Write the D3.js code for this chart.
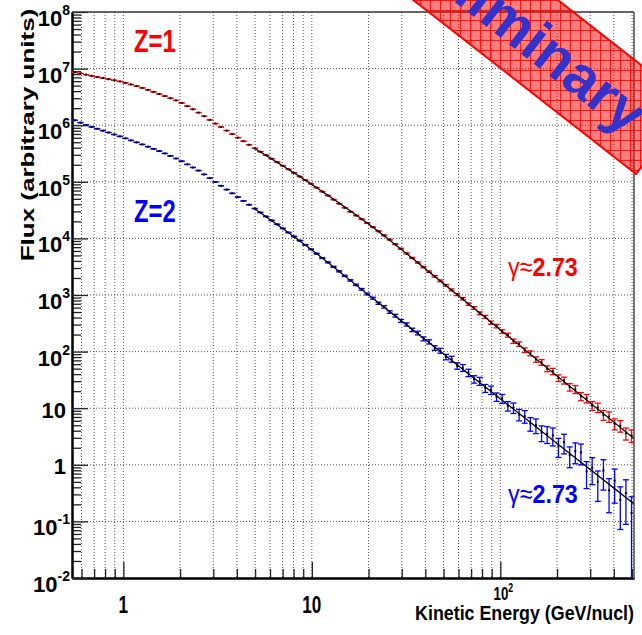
<!DOCTYPE html>
<html>
<head>
<meta charset="utf-8">
<script src="https://cdn.jsdelivr.net/npm/d3@7"></script>
<style>
  html, body { margin: 0; padding: 0; background: #fff; }
  svg { display: block; font-family: "Liberation Sans", Arial, sans-serif; }
</style>
</head>
<body>
<svg id="vis_svg" width="642" height="635"></svg>
<script>
// ---- data ----
const energies = [0.5525,0.5918,0.6339,0.6790,0.7273,0.7790,0.8344,0.8937,0.9573,1.025,
  1.098,1.176,1.260,1.350,1.446,1.549,1.659,1.777,1.903,2.038,
  2.183,2.339,2.505,2.683,2.874,3.078,3.297,3.532,3.783,4.052,
  4.340,4.649,4.980,5.334,5.713,6.120,6.555,7.021,7.521,8.055,
  8.628,9.242,9.899,10.60,11.36,12.17,13.03,13.96,14.95,16.01,
  17.15,18.37,19.68,21.08,22.58,24.18,25.90,27.74,29.71,31.83,
  34.09,36.52,39.11,41.89,44.87,48.06,51.48,55.14,59.06,63.26,
  67.76,72.58,77.74,83.27,89.19,95.53,102.3,109.6,117.4,125.8,
  134.7,144.3,154.5,165.5,177.3,189.9,203.4,217.9,233.4,250.0,
  267.7,286.8,307.2,329.0,352.4,377.5,404.3,433.0,463.8,496.8];

const fluxZ1 = [8.61e6,8.20e6,7.82e6,7.46e6,7.11e6,6.79e6,6.49e6,6.21e6,5.93e6,5.61e6,
  5.24e6,4.90e6,4.57e6,4.21e6,3.87e6,3.56e6,3.27e6,2.99e6,2.74e6,2.47e6,
  2.17e6,1.91e6,1.67e6,1.44e6,1.24e6,1.07e6,9.29e5,8.04e5,6.95e5,6.03e5,
  5.21e5,4.52e5,3.91e5,3.40e5,2.95e5,2.56e5,2.22e5,1.92e5,1.66e5,1.44e5,
  1.24e5,1.07e5,9.25e4,7.89e4,6.71e4,5.71e4,4.85e4,4.12e4,3.49e4,2.96e4,
  2.54e4,2.18e4,1.87e4,1.58e4,1.34e4,1.13e4,9.51e3,7.89e3,6.55e3,5.43e3,
  4.51e3,3.75e3,3.11e3,2.58e3,2.14e3,1.78e3,1.48e3,1.23e3,1.02e3,860,
  690,592,476,410,325,283,226,196,153,136,
  106,93.5,72.8,64.6,50.1,44.8,34.2,31.0,23.6,21.6,
  16.2,14.9,11.1,10.3,7.6,7.1,5.3,4.9,3.6,3.3];

// relative errors
const errZ1 = [0.003,0.003,0.003,0.003,0.003,0.003,0.003,0.003,0.003,0.003,
  0.003,0.003,0.003,0.003,0.003,0.003,0.003,0.003,0.003,0.003,
  0.003,0.003,0.003,0.003,0.003,0.003,0.003,0.003,0.003,0.003,
  0.004,0.004,0.004,0.004,0.004,0.004,0.004,0.004,0.004,0.004,
  0.005,0.005,0.006,0.006,0.007,0.007,0.008,0.008,0.009,0.010,
  0.011,0.012,0.013,0.014,0.015,0.016,0.017,0.019,0.020,0.022,
  0.024,0.026,0.028,0.030,0.032,0.035,0.038,0.041,0.044,0.047,
  0.050,0.054,0.058,0.062,0.066,0.070,0.075,0.080,0.085,0.090,
  0.095,0.10,0.11,0.115,0.12,0.13,0.135,0.14,0.15,0.16,
  0.165,0.17,0.18,0.19,0.20,0.21,0.22,0.23,0.24,0.25];

const fluxZ2 = [1.22e6,1.11e6,1.01e6,9.33e5,8.65e5,8.02e5,7.43e5,6.85e5,6.34e5,5.85e5,
  5.38e5,4.97e5,4.57e5,4.18e5,3.82e5,3.49e5,3.17e5,2.86e5,2.58e5,2.31e5,
  2.03e5,1.79e5,1.58e5,1.35e5,1.16e5,9.93e4,8.51e4,7.29e4,6.25e4,5.36e4,
  4.59e4,3.94e4,3.37e4,2.87e4,2.44e4,2.08e4,1.77e4,1.50e4,1.27e4,1.08e4,
  9.14e3,7.67e3,6.43e3,5.38e3,4.50e3,3.77e3,3.14e3,2.62e3,2.18e3,1.81e3,
  1.51e3,1.26e3,1.04e3,880,716,617,500,431,349,302,
  242,213,168,149,116,104,80.5,73.8,56.2,51.8,
  42.5,32.6,30.2,22.6,21.0,15.9,14.8,11.0,10.2,7.76,
  7.24,5.37,5.01,3.72,3.55,3.31,2.14,2.51,1.48,1.74,
  1.66,0.759,0.891,0.501,0.794,0.355,0.525,0.240,0.316,0.141];

const errZ2 = [0.004,0.004,0.004,0.004,0.004,0.004,0.004,0.004,0.004,0.004,
  0.004,0.004,0.004,0.004,0.004,0.004,0.004,0.004,0.004,0.004,
  0.005,0.005,0.005,0.005,0.005,0.005,0.005,0.005,0.005,0.005,
  0.006,0.006,0.007,0.007,0.008,0.008,0.009,0.010,0.011,0.012,
  0.013,0.014,0.015,0.017,0.018,0.020,0.022,0.024,0.026,0.028,
  0.031,0.034,0.037,0.040,0.044,0.048,0.052,0.056,0.060,0.065,
  0.070,0.075,0.080,0.086,0.092,0.10,0.11,0.12,0.13,0.14,
  0.15,0.15,0.16,0.16,0.17,0.17,0.18,0.19,0.21,0.23,
  0.25,0.27,0.29,0.31,0.33,0.35,0.37,0.38,0.40,0.40,
  0.40,0.50,0.50,0.55,0.55,0.60,0.60,0.70,0.72,0.93];

// black fit curves
const fitEnergies = [5, 10, 20, 50, 100, 200, 512];
const fitZ1 = [3.85e5, 9.0e4, 1.80e4, 1585, 243, 37, 2.92];
const fitZ2 = [3.3e4, 6240, 1000, 90.4, 14.7, 2.38, 0.204];

const xDomain = [0.534, 512];
const yDomain = [1e-2, 1e8];
const xLabelTicks = [1, 10, 100];
const yLabelExps = [-2, -1, 0, 1, 2, 3, 4, 5, 6, 7, 8];
const seriesNames = ['Z=1', 'Z=2'];
const gammaText = ['2.73', '2.73'];

// ---- layout ----
const margin = { top: 12, right: 8, bottom: 57, left: 72 };
const width = 642, height = 635;
const svg = d3.select('#vis_svg');

const x = d3.scaleLog().domain(xDomain).range([margin.left, width - margin.right]);
const y = d3.scaleLog().domain(yDomain).range([height - margin.bottom, margin.top]);
const y0 = height - margin.bottom;

// tick / grid positions
const xTicksAll = [];
for (let p = -1; p <= 2; p++) {
  for (let k = 1; k <= 9; k++) {
    const v = k * Math.pow(10, p);
    if (v >= xDomain[0] && v <= xDomain[1]) xTicksAll.push(v);
  }
}
const yMajor = yLabelExps.map((e) => Math.pow(10, e));
const yMinor = [];
yLabelExps.slice(0, -1).forEach((e) => {
  for (let k = 2; k <= 9; k++) yMinor.push(k * Math.pow(10, e));
});

// grid
const gGrid = svg.append('g')
  .attr('stroke', '#555')
  .attr('stroke-width', 1)
  .attr('stroke-dasharray', '1,2');
gGrid.selectAll('line.gx').data(xTicksAll).join('line')
  .attr('x1', (d) => x(d)).attr('x2', (d) => x(d))
  .attr('y1', margin.top).attr('y2', y0);
gGrid.selectAll('line.gy').data(yMajor.slice(1, -1)).join('line')
  .attr('y1', (d) => y(d)).attr('y2', (d) => y(d))
  .attr('x1', margin.left).attr('x2', width - margin.right);

// axes (ticks only, labels drawn separately)
const xMinorTicks = xTicksAll.filter((v) => !xLabelTicks.includes(v));
const axisX1 = svg.append('g').attr('transform', `translate(0,${y0})`)
  .call(d3.axisBottom(x).tickValues(xMinorTicks).tickSize(-9).tickFormat('').tickSizeOuter(0));
const axisX2 = svg.append('g').attr('transform', `translate(0,${y0})`)
  .call(d3.axisBottom(x).tickValues(xLabelTicks).tickSize(-16).tickFormat('').tickSizeOuter(0));
const axisY1 = svg.append('g').attr('transform', `translate(${margin.left},0)`)
  .call(d3.axisLeft(y).tickValues(yMinor).tickSize(-9).tickFormat('').tickSizeOuter(0));
const axisY2 = svg.append('g').attr('transform', `translate(${margin.left},0)`)
  .call(d3.axisLeft(y).tickValues(yMajor).tickSize(-16).tickFormat('').tickSizeOuter(0));
[axisX1, axisX2, axisY1, axisY2].forEach((g) => {
  g.selectAll('.tick line').attr('stroke', '#222').attr('stroke-width', 1.3);
  g.select('.domain').attr('stroke', '#000').attr('stroke-width', 2);
});

// frame
svg.append('line')
  .attr('x1', margin.left).attr('x2', width - margin.right)
  .attr('y1', margin.top).attr('y2', margin.top)
  .attr('stroke', '#333').attr('stroke-width', 1.5);
svg.append('line')
  .attr('x1', width - margin.right).attr('x2', width - margin.right)
  .attr('y1', margin.top).attr('y2', y0)
  .attr('stroke', '#777').attr('stroke-width', 2);

// y tick labels
const gYL = svg.append('g').attr('font-weight', 'bold').attr('fill', '#000');
yLabelExps.forEach((e) => {
  const ty = y(Math.pow(10, e));
  if (e === 0 || e === 1) {
    gYL.append('text')
      .attr('x', 66).attr('y', ty + 9.5)
      .attr('text-anchor', 'end')
      .attr('font-size', 22)
      .text(e === 0 ? '1' : '10');
  } else {
    const t = gYL.append('text')
      .attr('x', 70).attr('y', ty + 14)
      .attr('text-anchor', 'end');
    t.append('tspan').attr('font-size', 22).text('10');
    t.append('tspan').attr('font-size', 14).attr('dy', -11).text(String(e));
  }
});

// x tick labels
const gXL = svg.append('g').attr('font-weight', 'bold').attr('fill', '#000');
xLabelTicks.forEach((v) => {
  if (v < 100) {
    gXL.append('text')
      .attr('transform', `translate(${x(v)},613) scale(0.7,1)`)
      .attr('text-anchor', 'middle')
      .attr('font-size', 24.5)
      .text(String(v));
  } else {
    const t = gXL.append('text')
      .attr('transform', `translate(${x(v) + 3},600) scale(0.7,1)`)
      .attr('text-anchor', 'middle');
    t.append('tspan').attr('font-size', 19).text('10');
    t.append('tspan').attr('font-size', 12.5).attr('dy', -8).text(String(Math.round(Math.log10(v))));
  }
});

// axis titles
svg.append('text')
  .attr('transform', `translate(${width - margin.right},620) scale(0.87,1)`)
  .attr('text-anchor', 'end')
  .attr('font-size', 20.5).attr('font-weight', 'bold')
  .text('Kinetic Energy (GeV/nucl)');
svg.append('text')
  .attr('transform', 'translate(34,135) rotate(-90) scale(1,0.72)')
  .attr('text-anchor', 'middle')
  .attr('font-size', 26).attr('font-weight', 'bold')
  .text('Flux (arbitrary units)');

// data
svg.append('clipPath').attr('id', 'plotClip')
  .append('rect')
  .attr('x', margin.left).attr('y', margin.top)
  .attr('width', width - margin.left - margin.right)
  .attr('height', y0 - margin.top);

const series = [
  { flux: fluxZ1, err: errZ1, fit: fitZ1, color: '#ff0000' },
  { flux: fluxZ2, err: errZ2, fit: fitZ2, color: '#0000ff' },
];

const gData = svg.append('g').attr('clip-path', 'url(#plotClip)');
const cap = 3;
series.forEach((s) => {
  const pts = energies.map((e, i) => {
    const v = s.flux[i];
    const lo = Math.max(v * (1 - s.err[i]), yDomain[0] * 0.5);
    const hi = v * (1 + s.err[i]);
    return { e, v, lo, hi };
  });
  const g = gData.append('g').attr('stroke', s.color).attr('stroke-width', 1.3);
  g.selectAll('line.eb').data(pts).join('line')
    .attr('x1', (d) => x(d.e)).attr('x2', (d) => x(d.e))
    .attr('y1', (d) => y(d.lo)).attr('y2', (d) => y(d.hi));
  g.selectAll('line.ct').data(pts).join('line')
    .attr('x1', (d) => x(d.e) - cap).attr('x2', (d) => x(d.e) + cap)
    .attr('y1', (d) => y(d.hi)).attr('y2', (d) => y(d.hi));
  g.selectAll('line.cb').data(pts.filter((d) => d.lo > yDomain[0])).join('line')
    .attr('x1', (d) => x(d.e) - cap).attr('x2', (d) => x(d.e) + cap)
    .attr('y1', (d) => y(d.lo)).attr('y2', (d) => y(d.lo));
  s.pts = pts;
});

// fit curves
const fitLine = d3.line()
  .x((d) => x(d[0]))
  .y((d) => y(d[1]))
  .curve(d3.curveMonotoneX);
series.forEach((s) => {
  gData.append('path')
    .datum(fitEnergies.map((e, i) => [e, s.fit[i]]))
    .attr('d', fitLine)
    .attr('fill', 'none')
    .attr('stroke', '#000')
    .attr('stroke-width', 1.2);
});

// black markers
series.forEach((s) => {
  gData.append('g').selectAll('rect').data(s.pts).join('rect')
    .attr('x', (d) => x(d.e) - 1).attr('y', (d) => y(d.v) - 1)
    .attr('width', 2).attr('height', 2)
    .attr('fill', '#000');
});

// series labels
const labelPos = [[134, 52], [134, 221.5]];
const gammaPos = [[508, 276], [508, 503]];
series.forEach((s, i) => {
  svg.append('text')
    .attr('transform', `translate(${labelPos[i][0]},${labelPos[i][1]}) scale(0.78,1)`)
    .attr('font-size', 30.5).attr('font-weight', 'bold')
    .attr('fill', s.color)
    .text(seriesNames[i]);
  const t = svg.append('text')
    .attr('transform', `translate(${gammaPos[i][0]},${gammaPos[i][1]}) scale(0.88,1)`)
    .attr('font-size', 26.5)
    .attr('fill', s.color);
  t.append('tspan').text('\u03b3\u2248');
  t.append('tspan').attr('font-weight', 'bold').text(gammaText[i]);
});

// "Preliminary" banner
const ang = 38 * Math.PI / 180;
const u = [Math.cos(ang), Math.sin(ang)];
const nv = [Math.sin(ang), -Math.cos(ang)];
const C = [636, 174];
const bandLen = 460, bandW = 89;
const corners = [
  C,
  [C[0] - bandLen * u[0], C[1] - bandLen * u[1]],
  [C[0] - bandLen * u[0] + bandW * nv[0], C[1] - bandLen * u[1] + bandW * nv[1]],
  [C[0] + bandW * nv[0], C[1] + bandW * nv[1]],
];
const defs = svg.append('defs');
const pat = defs.append('pattern')
  .attr('id', 'hatch')
  .attr('patternUnits', 'userSpaceOnUse')
  .attr('width', 10).attr('height', 10);
pat.append('rect').attr('width', 10).attr('height', 10).attr('fill', 'rgba(255,0,0,0.5)');
pat.append('path').attr('d', 'M0,0.5H10M0.5,0V10')
  .attr('stroke', 'rgba(255,0,0,0.85)').attr('stroke-width', 1);

svg.append('polygon')
  .attr('points', corners.map((p) => p.join(',')).join(' '))
  .attr('fill', 'url(#hatch)')
  .attr('stroke', '#ff0000')
  .attr('stroke-width', 2);

const tc = [C[0] - 188 * u[0] + (bandW / 2) * nv[0], C[1] - 188 * u[1] + (bandW / 2) * nv[1]];
svg.append('text')
  .attr('transform', `translate(${tc[0]},${tc[1]}) rotate(38)`)
  .attr('text-anchor', 'middle')
  .attr('dominant-baseline', 'central')
  .attr('font-size', 58).attr('font-weight', 'bold')
  .attr('fill', '#3333cc')
  .text('Preliminary');
</script>
</body>
</html>
